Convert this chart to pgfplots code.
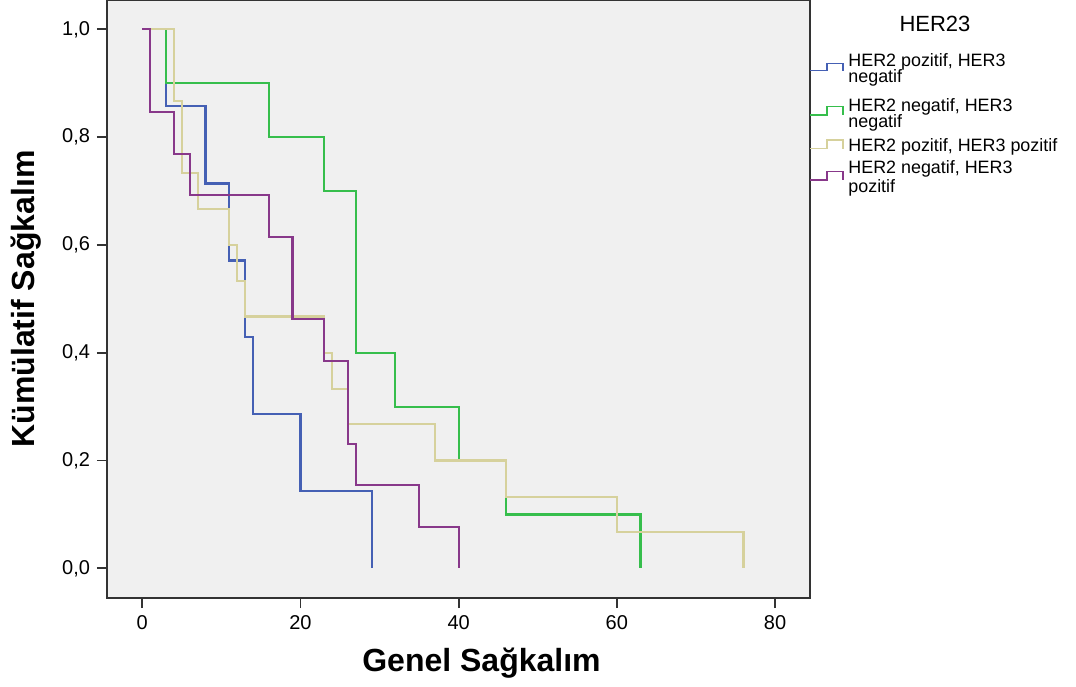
\documentclass[border=0pt]{standalone}
\usepackage{fontspec}
\setmainfont{Liberation Sans}
\usepackage{pgfplots}
\pgfplotsset{compat=1.18}
\definecolor{bgc}{HTML}{F0F0F0}
\definecolor{cblue}{HTML}{4560B4}
\definecolor{cgreen}{HTML}{36BE4C}
\definecolor{cbeige}{HTML}{D6D19C}
\definecolor{cpurple}{HTML}{88388A}
\definecolor{frame}{HTML}{333333}

\begin{document}
\begin{tikzpicture}
\begin{axis}[
    scale only axis,
    width=351.5pt, height=299pt,
    xmin=-4.46, xmax=84.42,
    ymin=-0.0551, ymax=1.0544,
    axis background/.style={fill=bgc},
    axis line style={draw=frame, line width=0.9pt},
    xtick={0,20,40,60,80},
    ytick={0,0.2,0.4,0.6,0.8,1},
    yticklabels={{0,0},{0,2},{0,4},{0,6},{0,8},{1,0}},
    tick align=outside,
    xtick pos=bottom, ytick pos=left,
    major tick length=5pt,
    tick style={draw=frame, line width=0.9pt},
    tick label style={font=\fontsize{10}{12}\selectfont},
    /pgf/number format/assume math mode=true,
    xlabel={Genel Sağkalım},
    ylabel={Kümülatif Sağkalım},
    label style={font=\fontsize{16}{19}\selectfont\bfseries},
    xlabel style={at={(axis description cs:0.5327,-0.1237)}, anchor=base},
    ylabel style={at={(axis description cs:-0.1038,0.5)}, anchor=base},
    every axis plot/.append style={const plot, line width=1.1pt},
]
% HER2 pozitif, HER3 negatif
\addplot[cblue] coordinates {
    (0,1) (3,0.857) (8,0.714) (11,0.571) (13,0.429) (14,0.286) (20,0.143) (29,0)
};
% HER2 negatif, HER3 negatif
\addplot[cgreen] coordinates {
    (0,1) (3,0.9) (16,0.8) (23,0.7) (27,0.4) (32,0.3) (40,0.2) (46,0.1) (63,0)
};
% HER2 pozitif, HER3 pozitif
\addplot[cbeige] coordinates {
    (0,1) (4,0.867) (5,0.733) (7,0.667) (11,0.6) (12,0.533) (13,0.467)
    (23,0.4) (24,0.333) (26,0.267) (37,0.2) (46,0.133) (60,0.067) (76,0)
};
% HER2 negatif, HER3 pozitif
\addplot[cpurple] coordinates {
    (0,1) (1,0.846) (4,0.769) (6,0.692) (16,0.615) (19,0.462) (23,0.385)
    (26,0.231) (27,0.154) (35,0.077) (40,0)
};
\end{axis}

% legend, in pixel units from the plot's top-left corner
\begin{scope}[shift={(current axis.north west)}, x=0.5pt, y=-0.5pt]
\node[anchor=base, inner sep=0pt, font=\fontsize{11}{13}\selectfont] at (828,32) {HER23};
\begin{scope}[line width=0.75pt]
\draw[cblue]   (703,70.7) -- (720,70.7) -- (720,63.3) -- (736,63.3) -- (736,71.5);
\draw[cgreen]  (703,115) -- (720,115) -- (720,106.7) -- (736,106.7) -- (736,115.5);
\draw[cbeige]  (703,148.3) -- (720,148.3) -- (720,140) -- (736,140) -- (736,148.8);
\draw[cpurple] (703,180) -- (720,180) -- (720,171.7) -- (736,171.7) -- (736,180.5);
\end{scope}
\begin{scope}[every node/.style={anchor=base west, inner sep=0pt, font=\fontsize{8.95}{10}\selectfont}]
\node at (741,66.7) {HER2 pozitif, HER3};
\node at (741,82.7) {negatif};
\node at (741,111.7) {HER2 negatif, HER3};
\node at (741,128) {negatif};
\node at (741,151.7) {HER2 pozitif, HER3 pozitif};
\node at (741,173.3) {HER2 negatif, HER3};
\node at (741,193) {pozitif};
\end{scope}
\pgfresetboundingbox
\path[use as bounding box] (-107,0) rectangle (969,686);
\end{scope}
\end{tikzpicture}
\end{document}
